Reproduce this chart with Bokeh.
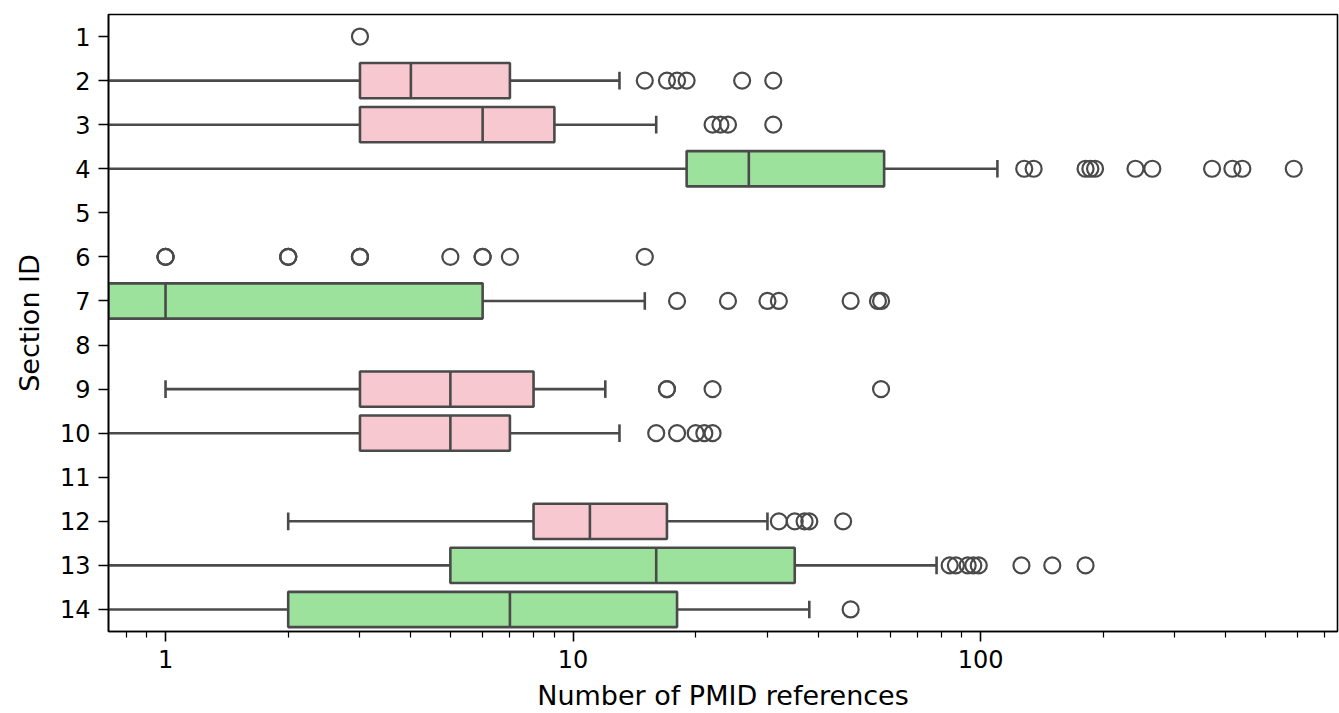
import numpy as np
from bokeh.plotting import figure
from bokeh.models import FactorRange, Range1d, FixedTicker, ColumnDataSource, BasicTickFormatter
from bokeh.transform import dodge
from bokeh.embed import file_html
from bokeh.resources import INLINE

# ---- data ----
sections = [str(i) for i in range(1, 15)]
box_sections = ["2", "3", "4", "7", "9", "10", "12", "13", "14"]
box_colors = ["pink", "pink", "green", "green", "pink", "pink", "pink", "green", "green"]
whisk_lo = [0, 0, 0, 0, 1, 0, 2, 0, 0]
q1 = [3, 3, 19, 0, 3, 3, 8, 5, 2]
median = [4, 6, 27, 1, 5, 5, 11, 16, 7]
q3 = [7, 9, 58, 6, 8, 7, 17, 35, 18]
whisk_hi = [13, 16, 110, 15, 12, 13, 30, 78, 38]

outliers = {
    "1": [3],
    "2": [15, 17, 18, 19, 26, 31],
    "3": [22, 23, 24, 31],
    "4": [128, 135, 181, 186, 191, 240, 264, 370, 415, 439, 587],
    "6": [1, 1, 1, 2, 2, 2, 3, 3, 3, 5, 6, 6, 7, 15],
    "7": [18, 24, 30, 32, 48, 56, 57],
    "9": [17, 17, 22, 57],
    "10": [16, 18, 20, 21, 22],
    "12": [32, 35, 37, 38, 46],
    "13": [84, 87, 93, 96, 99, 126, 150, 181],
    "14": [48],
}
x_ticks = [1, 10, 100]

PINK = "#f7c8d0"
GREEN = "#9ce29c"
LINE = "#4a4a4a"
FONT = "DejaVu Sans"
FS = "24px"
FS_LABEL = "27px"

x_start, x_end = 0.7245, 751.6

p = figure(width=1339, height=713, x_axis_type="log",
           x_range=Range1d(x_start, x_end),
           y_range=FactorRange(*list(reversed(sections))),
           output_backend="svg", toolbar_location=None,
           min_border_left=108, min_border_top=14, min_border_right=2, min_border_bottom=82)
p.background_fill_color = "white"
p.border_fill_color = "white"
p.xgrid.visible = False
p.ygrid.visible = False
p.outline_line_color = "black"
p.outline_line_width = 1.6
p.outline_line_alpha = 1.0

fill = [PINK if c == "pink" else GREEN for c in box_colors]
lo_draw = [v if v > 0 else x_start * 0.5 for v in whisk_lo]
q1_draw = [v if v > 0 else x_start * 0.5 for v in q1]

src = ColumnDataSource(dict(sec=box_sections, lo=lo_draw, q1=q1_draw, med=median,
                            q3=q3, hi=whisk_hi, fill=fill))

# whiskers
p.segment(x0="lo", y0="sec", x1="q1", y1="sec", source=src, line_color=LINE, line_width=2.6)
p.segment(x0="q3", y0="sec", x1="hi", y1="sec", source=src, line_color=LINE, line_width=2.6)
# caps
cap_lo = [(s, v) for s, v in zip(box_sections, whisk_lo) if v > 0]
csrc_lo = ColumnDataSource(dict(sec=[c[0] for c in cap_lo], x=[c[1] for c in cap_lo]))
p.segment(x0="x", y0=dodge("sec", -0.2, range=p.y_range), x1="x", y1=dodge("sec", 0.2, range=p.y_range),
          source=csrc_lo, line_color=LINE, line_width=2.6)
p.segment(x0="hi", y0=dodge("sec", -0.2, range=p.y_range), x1="hi", y1=dodge("sec", 0.2, range=p.y_range),
          source=src, line_color=LINE, line_width=2.6)
# boxes
p.hbar(y="sec", left="q1", right="q3", height=0.8, source=src, fill_color="fill",
       line_color=LINE, line_width=2.6)
# medians
p.segment(x0="med", y0=dodge("sec", -0.4, range=p.y_range), x1="med", y1=dodge("sec", 0.4, range=p.y_range),
          source=src, line_color=LINE, line_width=2.6)

# outliers
ox, oy = [], []
for s, vals in outliers.items():
    for v in vals:
        ox.append(v)
        oy.append(s)
p.scatter(x=ox, y=oy, marker="circle", size=16, fill_color=None, line_color=LINE, line_width=2.2)

# axes
p.xaxis.ticker = FixedTicker(ticks=x_ticks,
                             minor_ticks=[m * d for d in [0.1, 1, 10, 100] for m in range(2, 10)])
p.xaxis.formatter = BasicTickFormatter()
p.xaxis.axis_label = "Number of PMID references"
p.yaxis.axis_label = "Section ID"
for ax in (p.xaxis, p.yaxis):
    ax.axis_line_color = "black"
    ax.axis_line_width = 1.6
    ax.major_tick_line_color = "black"
    ax.major_tick_line_width = 1.6
    ax.minor_tick_line_color = "black"
    ax.minor_tick_line_width = 1.2
    ax.major_tick_in = 0
    ax.major_tick_out = 10
    ax.minor_tick_in = 0
    ax.minor_tick_out = 6
    ax.major_label_text_font = FONT
    ax.major_label_text_font_size = FS
    ax.major_label_text_color = "black"
    ax.axis_label_text_font = FONT
    ax.axis_label_text_font_size = FS_LABEL
    ax.axis_label_text_font_style = "normal"
    ax.axis_label_text_color = "black"
p.xaxis.major_label_standoff = 8
p.yaxis.major_label_standoff = 8
p.xaxis.axis_label_standoff = 9
p.yaxis.axis_label_standoff = 12

open("out.html", "w").write(file_html(p, INLINE))
